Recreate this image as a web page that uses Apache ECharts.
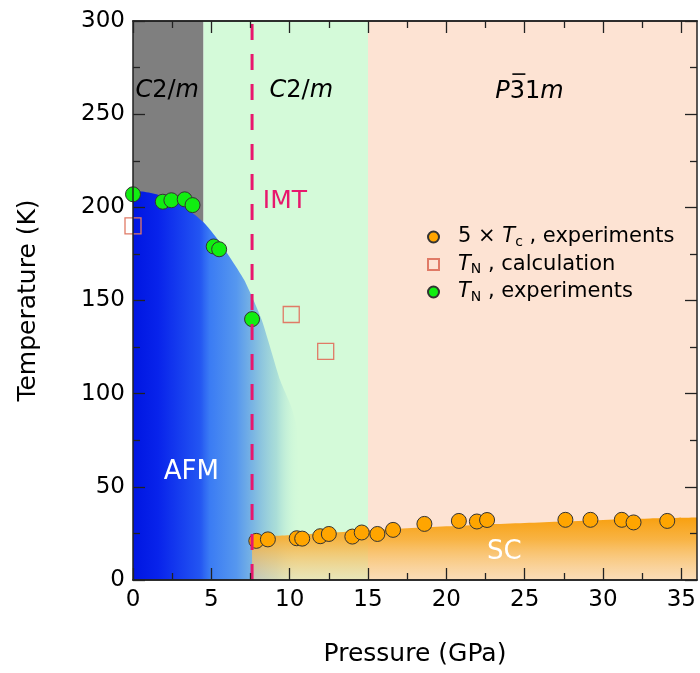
<!DOCTYPE html>
<html><head><meta charset="utf-8">
<script src="https://cdn.jsdelivr.net/npm/echarts@6/dist/echarts.min.js"></script>
<style>html,body{margin:0;padding:0;background:#fff}#c{width:700px;height:673px}</style>
</head><body><div id="c"></div>
<script>
// ---- data ----
const phaseEdges = [0, 4.5, 15, 36];             // GPa, structural phase boundaries
const phaseNames = ['C2/m (I)', 'C2/m (II)', 'P-31m'];

const tnExpP = [0, 1.9, 2.45, 3.3, 3.8, 5.15, 5.5, 7.6];
const tnExpT = [207, 203, 203.8, 204.3, 201.2, 179, 177.5, 140];

const tnCalcP = [0, 10.1, 12.3];
const tnCalcT = [190, 142.5, 122.7];

const tcP = [7.87, 8.61, 10.45, 10.8, 11.95, 12.5, 14.0, 14.6, 15.6, 16.6, 18.6, 20.8, 21.95, 22.6, 27.6, 29.2, 31.2, 31.95, 34.1];
const tcT = [21.0, 21.8, 22.4, 22.2, 23.5, 24.7, 23.3, 25.5, 24.7, 26.9, 30.1, 31.7, 31.4, 32.2, 32.3, 32.3, 32.3, 30.9, 31.7];

const afmP = [0, 0.5, 1.5, 2.5, 3.5, 4.5, 5.3, 6.2, 7.1, 8.2, 9.4, 10.1, 10.45, 10.6, 10.65];
const afmT = [208, 208.5, 207, 204, 199, 192, 184, 173, 161, 140, 107, 93, 82, 50, 0];

const scP = [7.6, 10, 12.5, 15, 17.5, 20, 22.5, 25, 27.5, 30, 33, 36];
const scT = [23.3, 24.0, 25.3, 26.7, 27.8, 28.8, 29.8, 30.6, 31.4, 32.2, 33.0, 33.5];

const imtP = 7.6;

const xMajorTicks = [0, 5, 10, 15, 20, 25, 30, 35];
const xMinorTicks = [2.5, 7.5, 12.5, 17.5, 22.5, 27.5, 32.5];

const annKeys = ['c2m1', 'c2m2', 'p31m', 'bar', 'imt', 'afm', 'sc'];
const annP = [2.18, 10.74, 25.3, 24.63, 9.7, 3.72, 23.7];
const annT = [262.5, 262.5, 262, 271.5, 203, 58, 14.8];

// ---- chart ----
const FONT = 'DejaVu Sans';
const chart = echarts.init(document.getElementById('c'), null, {renderer: 'canvas'});
const zip = (a, b) => a.map((v, i) => [v, b[i]]);

const annFormat = {
  c2m1: '{i|C}{n|2/}{i|m}',
  c2m2: '{i|C}{n|2/}{i|m}',
  p31m: '{i|P}{n|31}{i|m}',
  bar: '{bar|}',
  imt: '{imt|IMT}',
  afm: '{w|AFM}',
  sc: '{w|SC}'
};
const annRich = {
  i: {fontFamily: FONT, fontStyle: 'italic', fontSize: 24, color: '#000'},
  n: {fontFamily: FONT, fontSize: 24, color: '#000'},
  bar: {width: 13, height: 1.6, lineHeight: 1.6, fontSize: 1, backgroundColor: '#000'},
  imt: {fontFamily: FONT, fontSize: 25, color: '#e8176d'},
  w: {fontFamily: FONT, fontSize: 26, color: '#fff'}
};

const axisLine = {show: true, onZero: false, lineStyle: {color: '#222', width: 1.5}};
const tickStyle = {color: '#222', width: 1.3};

function xAx(pos, ticks, len, labels) {
  return {
    type: 'value', position: pos, min: 0, max: 36, z: 10, zlevel: 1,
    axisLine: axisLine,
    axisTick: {show: true, inside: true, length: len, customValues: ticks, lineStyle: tickStyle},
    axisLabel: labels ? {show: true, customValues: ticks, fontFamily: FONT, fontSize: 23, color: '#000', margin: 9}
                      : {show: false},
    splitLine: {show: false},
    name: labels ? 'Pressure (GPa)' : '', nameLocation: 'middle', nameGap: 62,
    nameTextStyle: {fontFamily: FONT, fontSize: 25, color: '#000'}
  };
}
function yAx(pos, labels) {
  return {
    type: 'value', position: pos, min: 0, max: 300, interval: 50, z: 10, zlevel: 1,
    axisLine: axisLine,
    axisTick: {show: true, inside: true, length: 12, lineStyle: tickStyle},
    minorTick: {show: true, splitNumber: 2, length: 7, lineStyle: tickStyle},
    axisLabel: labels ? {show: true, fontFamily: FONT, fontSize: 23, color: '#000', margin: 8} : {show: false},
    splitLine: {show: false}, minorSplitLine: {show: false},
    name: labels ? 'Temperature (K)' : '', nameLocation: 'middle', nameGap: 92, nameRotate: 90,
    nameTextStyle: {fontFamily: FONT, fontSize: 25, color: '#000'}
  };
}

const phaseColors = ['#7f7f7f', '#d4fad9', '#fde3d3'];
const markAreaData = phaseNames.map((n, i) => [
  {xAxis: phaseEdges[i], yAxis: 0, itemStyle: {color: phaseColors[i], opacity: 1}},
  {xAxis: phaseEdges[i + 1], yAxis: 300}
]);

const legendFmt = {
  tc: '{sp|}{t|5 × }{i|T}{sub|c}{t| , experiments}',
  calc: '{sp|}{i|T}{sub|N}{t| , calculation}',
  tn: '{sp|}{i|T}{sub|N}{t| , experiments}'
};

const option = {
  animation: false,
  backgroundColor: '#fff',
  grid: {left: 133, top: 21, right: 3, bottom: 93, containLabel: false},
  xAxis: [
    xAx('bottom', xMajorTicks, 12, true),
    xAx('bottom', xMinorTicks, 7, false),
    xAx('top', xMajorTicks, 12, false),
    xAx('top', xMinorTicks, 7, false)
  ],
  yAxis: [yAx('left', true), yAx('right', false)],
  legend: {
    show: true, orient: 'vertical', left: 422, top: 220, zlevel: 1,
    itemWidth: 11, itemHeight: 11, itemGap: 3.5,
    data: ['tc', 'calc', 'tn'],
    formatter: n => legendFmt[n],
    selectedMode: false,
    textStyle: {
      fontFamily: FONT, fontSize: 21, color: '#000',
      rich: {
        sp: {width: 14},
        t: {fontFamily: FONT, fontSize: 21, lineHeight: 22, color: '#000'},
        i: {fontFamily: FONT, fontSize: 21, lineHeight: 22, fontStyle: 'italic', color: '#000'},
        sub: {fontFamily: FONT, fontSize: 14, lineHeight: 14, padding: [10, 0, 0, 0], color: '#000'}
      }
    }
  },
  series: [
    {
      name: 'bg', type: 'line', data: [], z: 0, silent: true,
      markArea: {silent: true, data: markAreaData}
    },
    {
      name: 'afm', type: 'line', data: zip(afmP, afmT), z: 1, silent: true,
      showSymbol: false, symbol: 'none', smooth: 0.2,
      lineStyle: {width: 0, opacity: 0},
      areaStyle: {
        opacity: 1,
        color: new echarts.graphic.LinearGradient(0, 0, 1, 0, [
          {offset: 0, color: 'rgba(0,22,225,1)'},
          {offset: 0.15, color: 'rgba(8,35,235,1)'},
          {offset: 0.4, color: 'rgba(35,85,242,1)'},
          {offset: 0.46, color: 'rgba(52,118,245,0.96)'},
          {offset: 0.62, color: 'rgba(78,145,240,0.94)'},
          {offset: 0.72, color: 'rgba(110,172,228,0.88)'},
          {offset: 0.86, color: 'rgba(150,208,215,0.68)'},
          {offset: 0.95, color: 'rgba(190,238,216,0.3)'},
          {offset: 1, color: 'rgba(205,248,218,0)'}
        ])
      }
    },
    {
      name: 'sc', type: 'line', data: zip(scP, scT), z: 2, silent: true,
      showSymbol: false, symbol: 'none', smooth: 0.3,
      lineStyle: {width: 0, opacity: 0},
      areaStyle: {
        opacity: 1,
        color: new echarts.graphic.LinearGradient(0, 0, 0, 1, [
          {offset: 0, color: 'rgba(248,160,15,1)'},
          {offset: 0.35, color: 'rgba(248,175,55,0.92)'},
          {offset: 1, color: 'rgba(248,215,160,0.55)'}
        ])
      }
    },
    {
      name: 'tc', type: 'scatter', data: zip(tcP, tcT), z: 3,
      symbol: 'circle', symbolSize: 15,
      itemStyle: {color: '#ffa500', borderColor: '#333', borderWidth: 1, opacity: 1}
    },
    {
      name: 'calc', type: 'scatter', data: zip(tnCalcP, tnCalcT), z: 3,
      symbol: 'rect', symbolSize: 16,
      itemStyle: {color: 'rgba(0,0,0,0)', borderColor: '#e07a66', borderWidth: 1.3, opacity: 1}
    },
    {
      name: 'tn', type: 'scatter', data: zip(tnExpP, tnExpT), z: 3,
      symbol: 'circle', symbolSize: 15,
      itemStyle: {color: '#11ee11', borderColor: '#333', borderWidth: 1, opacity: 1}
    },
    {
      name: 'imt', type: 'line', data: [[imtP, 0], [imtP, 300]], z: 4, silent: true,
      showSymbol: false, symbol: 'none',
      lineStyle: {color: '#e8176d', width: 3, type: [16, 14], opacity: 1}
    },
    {
      name: 'ann', type: 'scatter', z: 5, silent: true, symbolSize: 0,
      itemStyle: {opacity: 1},
      data: annKeys.map((k, i) => ({
        value: [annP[i], annT[i]],
        label: {show: true, position: 'inside', opacity: 1, formatter: annFormat[k], rich: annRich}
      }))
    }
  ]
};
chart.setOption(option);
</script></body></html>
